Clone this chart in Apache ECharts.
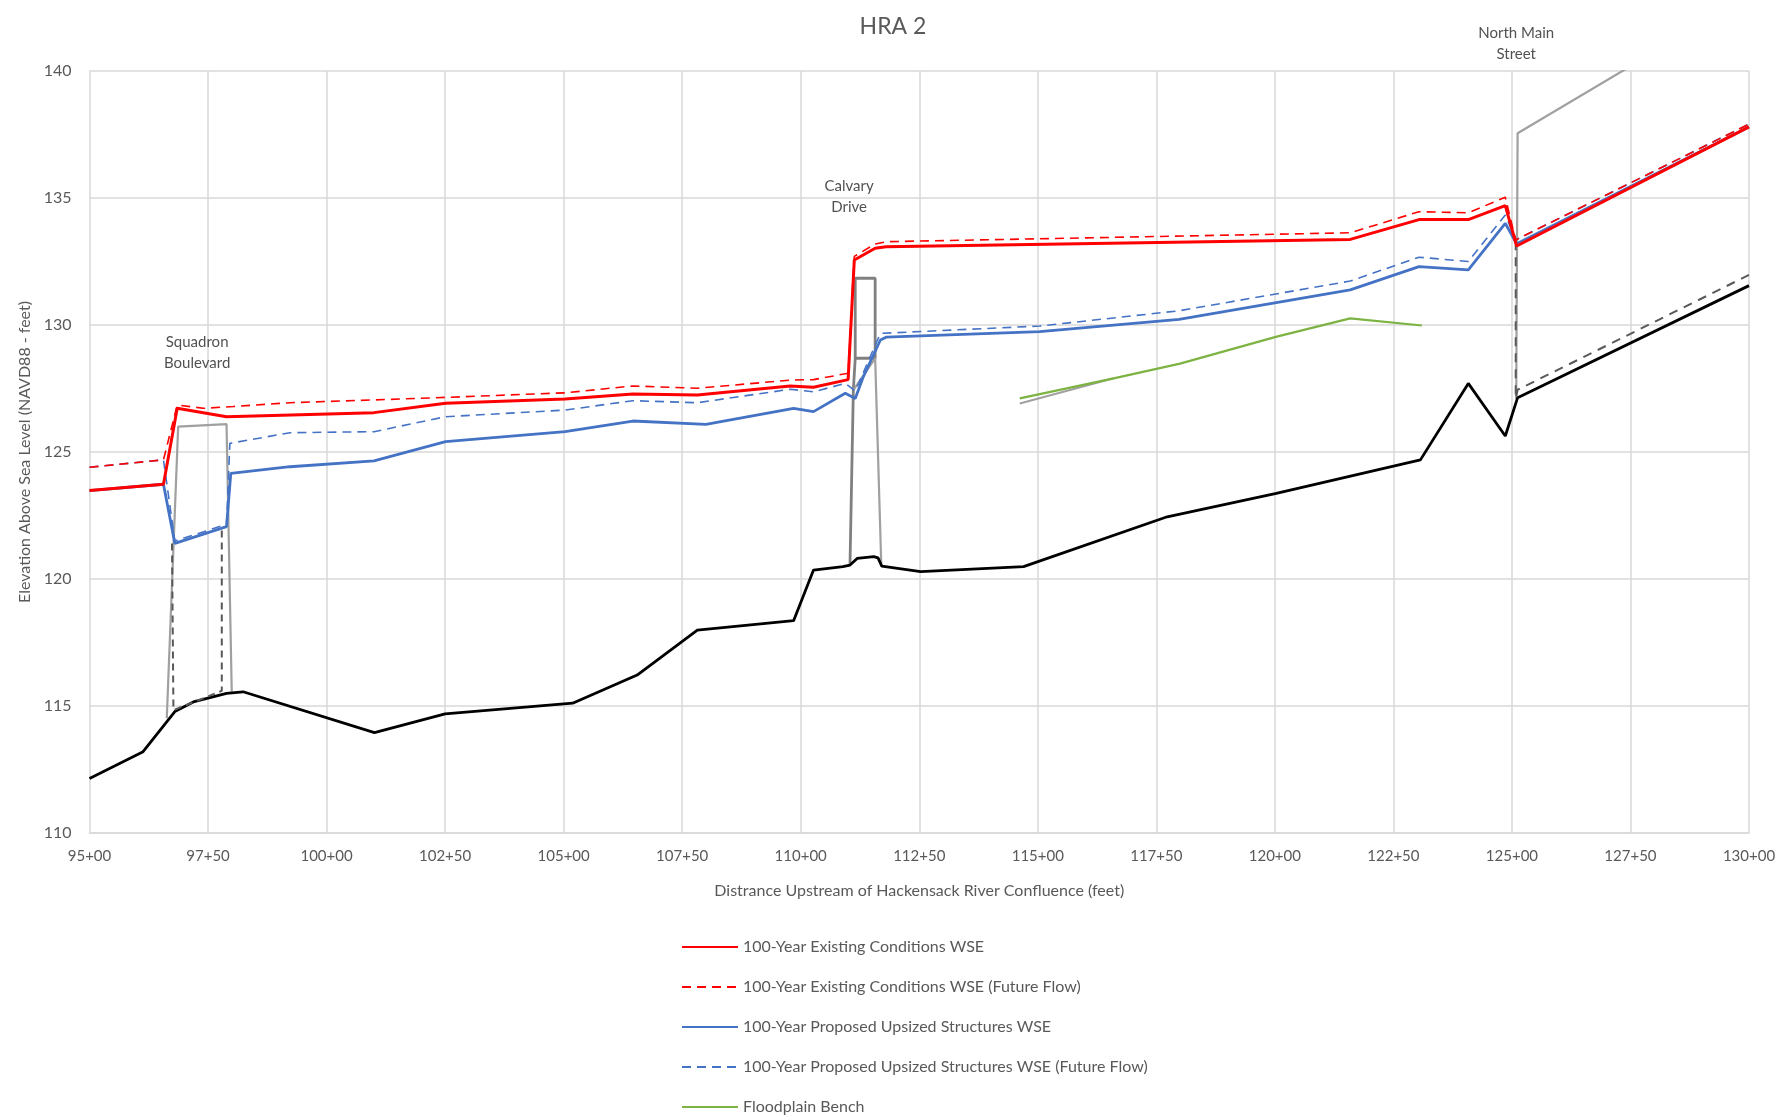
<!DOCTYPE html>
<html>
<head>
<meta charset="utf-8">
<script src="https://cdn.jsdelivr.net/npm/echarts@6/dist/echarts.min.js"></script>
<style>
html,body{margin:0;padding:0;background:#fff;}
#chart{width:1786px;height:1117px;}
</style>
</head>
<body>
<div id="chart"></div>
<script>
// ---- Data (stations in feet, e.g. 9500 = 95+00; elevations in feet NAVD88) ----
var xTicks = [9500, 13000, 250];          // min, max, interval
var yTicks = [110, 140, 5];

var existingWSE = [[9500,123.48],[9656,123.73],[9685,126.72],[9789,126.39],[10100,126.55],[10251,126.92],[10503,127.09],[10646,127.28],[10782,127.24],[10978,127.6],[11027,127.55],[11100,127.85],[11113,132.56],[11157,133.02],[11180,133.08],[12159,133.37],[12304,134.15],[12408,134.15],[12486,134.7],[12510,133.11],[13000,137.8]];
var existingWSEFuture = [[9500,124.4],[9656,124.69],[9685,126.85],[9740,126.72],[9803,126.79],[9923,126.94],[10100,127.05],[10251,127.15],[10503,127.33],[10646,127.6],[10782,127.51],[10978,127.83],[11027,127.85],[11100,128.1],[11113,132.7],[11157,133.19],[11182,133.28],[12159,133.63],[12304,134.46],[12408,134.42],[12486,135.03],[12508,133.35],[13000,137.91]];
var proposedWSE = [[9500,123.48],[9656,123.73],[9680,121.4],[9789,122.06],[9798,124.16],[9923,124.42],[10100,124.65],[10251,125.41],[10503,125.8],[10646,126.22],[10800,126.09],[10985,126.72],[11027,126.59],[11094,127.31],[11115,127.11],[11132,127.96],[11168,129.41],[11180,129.52],[11504,129.74],[11798,130.22],[12159,131.38],[12304,132.3],[12408,132.17],[12486,134.0],[12510,133.2],[13000,137.8]];
var proposedWSEFuture = [[9500,124.4],[9656,124.69],[9680,121.5],[9789,122.15],[9796,125.34],[9923,125.76],[10100,125.8],[10251,126.39],[10503,126.65],[10646,127.02],[10782,126.94],[10978,127.47],[11027,127.37],[11094,127.7],[11115,127.4],[11168,129.67],[11504,129.96],[11798,130.56],[12159,131.73],[12304,132.67],[12408,132.5],[12486,134.33],[12508,133.35],[13000,137.91]];
var floodplainBench = [[11462,127.11],[11660,127.9],[11800,128.48],[12004,129.54],[12159,130.26],[12310,129.98]];
var benchGround = [[11462,126.91],[11660,127.9]];
var thalweg = [[9500,112.15],[9613,113.2],[9680,114.78],[9719,115.16],[9789,115.5],[9824,115.56],[10101,113.95],[10250,114.69],[10519,115.11],[10655,116.22],[10782,117.99],[10985,118.36],[11027,120.35],[11089,120.49],[11104,120.55],[11119,120.81],[11154,120.88],[11163,120.83],[11171,120.51],[11253,120.29],[11470,120.49],[11773,122.45],[12003,123.37],[12307,124.69],[12408,127.7],[12486,125.63],[12512,127.14],[13000,131.55]];
var proposedInvertSquadron = [[9674,121.4],[9677,114.84],[9747,115.35],[9779,115.6],[9779,122.0]];
var proposedInvertNorthMain = [[12508,133.3],[12508,127.1],[12512,127.45],[13000,131.97]];
var squadronStructure = [[9663,114.52],[9687,126.0],[9789,126.1],[9800,115.56]];
var calvaryStructure = [[11104,120.6],[11111,127.44],[11115,128.69],[11115,131.84],[11157,131.84],[11157,128.69],[11115,128.69]];
var calvaryStructure2 = [[11111,127.44],[11157,128.69],[11170,120.5]];
var northMainStructure = [[12509,127.1],[12512,137.55],[13000,142.96]];

var annotationLabels = ['Squadron\nBoulevard', 'Calvary\nDrive', 'North Main\nStreet'];
var annotationStations = [9727, 11102, 12509];
var annotationElevations = [128.9, 135.05, 141.07];

var legendNames = ['100-Year Existing Conditions WSE','100-Year Existing Conditions WSE (Future Flow)','100-Year Proposed Upsized Structures WSE','100-Year Proposed Upsized Structures WSE (Future Flow)','Floodplain Bench'];

// ---- Chart ----
var FONT = 'Lato, "Open Sans", sans-serif';
var TXT = '#595959';
function station(v){
  var h = Math.floor(v/100), r = Math.round(v - h*100);
  return h + '+' + (r < 10 ? '0' + r : r);
}
function line(name, data, color, width, type, z){
  return {name:name, type:'line', data:data, symbol:'none', z:z||2, silent:true,
    lineStyle:{color:color, width:width, type:type||'solid'}, itemStyle:{color:color}, animation:false};
}
var annotData = annotationLabels.map(function(t,i){ return {name:t, value:[annotationStations[i], annotationElevations[i]]}; });

var chart = echarts.init(document.getElementById('chart'), null, {renderer:'canvas'});
chart.setOption({
  backgroundColor:'#fff',
  animation:false,
  title:{text:'HRA 2', left:'center', top:10, textStyle:{fontFamily:FONT, fontSize:23, fontWeight:'normal', color:TXT}},
  grid:{left:89.5, right:37, top:71, bottom:284, containLabel:false},
  xAxis:{type:'value', min:xTicks[0], max:xTicks[1], interval:xTicks[2],
    name:'Distrance Upstream of Hackensack River Confluence (feet)', nameLocation:'middle', nameGap:50,
    nameTextStyle:{fontFamily:FONT, fontSize:16, color:TXT},
    axisLine:{show:true, lineStyle:{color:'#d9d9d9', width:1.5}}, axisTick:{show:false},
    axisLabel:{fontFamily:FONT, fontSize:15, color:TXT, margin:16, formatter:station},
    splitLine:{show:true, lineStyle:{color:'#d9d9d9', width:1.5}}},
  yAxis:{type:'value', min:yTicks[0], max:yTicks[1], interval:yTicks[2],
    name:'Elevation Above Sea Level (NAVD88 - feet)', nameLocation:'middle', nameGap:56, nameRotate:90,
    nameTextStyle:{fontFamily:FONT, fontSize:16, color:TXT},
    axisLine:{show:false}, axisTick:{show:false},
    axisLabel:{fontFamily:FONT, fontSize:16, color:TXT, margin:18},
    splitLine:{show:true, lineStyle:{color:'#d9d9d9', width:1.5}}},
  legend:{orient:'vertical', left:681, top:939, height:220, padding:0, itemWidth:56, itemHeight:14, itemGap:24,
    itemStyle:{opacity:0, borderWidth:0},
    data:legendNames, textStyle:{fontFamily:FONT, fontSize:16, color:TXT}, selectedMode:false},
  series:[
    line('Thalweg', thalweg, '#000000', 2.8, 'solid', 3),
    line('Proposed Invert A', proposedInvertSquadron, '#595959', 2, [7,5], 3),
    line('Proposed Invert B', proposedInvertNorthMain, '#595959', 2, [9,7], 3),
    line('Squadron Structure', squadronStructure, '#a0a0a0', 2.2, 'solid', 2),
    line('Calvary Structure', calvaryStructure, '#808080', 2.8, 'solid', 2),
    line('Calvary Structure 2', calvaryStructure2, '#a0a0a0', 2.2, 'solid', 2),
    line('North Main Structure', northMainStructure, '#a0a0a0', 2.2, 'solid', 2),
    line('Bench Ground', benchGround, '#a0a0a0', 2, 'solid', 2),
    line(legendNames[4], floodplainBench, '#7cb342', 2.2, 'solid', 4),
    line(legendNames[3], proposedWSEFuture, '#4472c4', 1.6, [9,6], 5),
    line(legendNames[2], proposedWSE, '#4472c4', 2.8, 'solid', 6),
    line(legendNames[1], existingWSEFuture, '#ff0000', 1.6, [9,6], 7),
    line(legendNames[0], existingWSE, '#ff0000', 3, 'solid', 8),
    {name:'Annotations', type:'scatter', data:annotData, symbolSize:1, clip:false, silent:true, z:10,
      itemStyle:{color:'rgba(0,0,0,0)'},
      label:{show:true, position:'inside', formatter:function(p){return p.name;}, fontFamily:FONT, fontSize:15, lineHeight:21, color:'#262626', align:'center'}}
  ]
});
</script>
</body>
</html>
